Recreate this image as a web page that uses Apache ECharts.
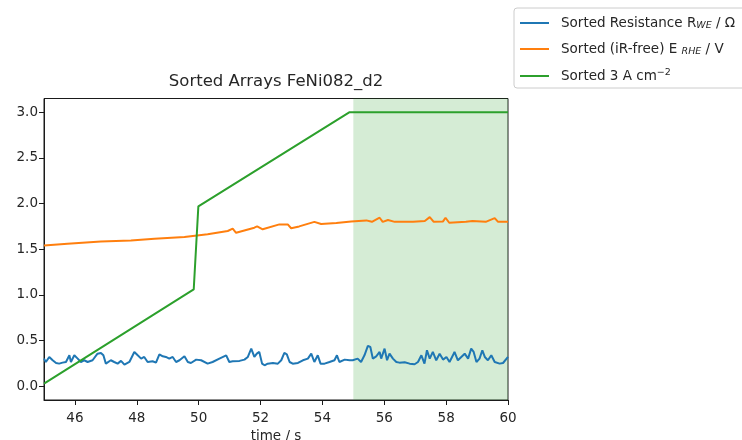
<!DOCTYPE html>
<html>
<head>
<meta charset="utf-8">
<script src="https://cdn.jsdelivr.net/npm/echarts@6/dist/echarts.min.js"></script>
<style>
  html, body { margin: 0; padding: 0; background: #fff; }
  #chart { width: 742px; height: 440px; }
</style>
</head>
<body>
<div id="chart"></div>
<script>
// Sorted resistance R_WE (Ω) against time (s)
const resTime = [45.00,45.06,45.17,45.28,45.39,45.49,45.60,45.71,45.82,45.87,45.98,46.09,46.19,46.30,46.41,46.57,46.73,46.84,46.92,47.00,47.06,47.16,47.27,47.38,47.49,47.60,47.76,47.92,48.03,48.14,48.24,48.35,48.51,48.62,48.73,48.84,48.94,49.05,49.16,49.27,49.38,49.54,49.65,49.75,49.92,50.08,50.29,50.45,50.67,50.89,50.99,51.10,51.32,51.48,51.59,51.70,51.80,51.88,51.96,52.05,52.13,52.23,52.40,52.56,52.67,52.77,52.85,52.94,53.04,53.21,53.37,53.53,53.64,53.74,53.85,53.94,54.07,54.23,54.39,54.47,54.55,54.72,54.88,54.98,55.14,55.25,55.36,55.47,55.55,55.63,55.74,55.85,55.90,56.01,56.09,56.17,56.28,56.39,56.49,56.66,56.82,56.98,57.09,57.20,57.30,57.38,57.47,57.57,57.68,57.79,57.90,58.01,58.11,58.22,58.27,58.38,58.49,58.60,58.71,58.81,58.89,58.98,59.08,59.17,59.25,59.35,59.46,59.57,59.73,59.84,60.00];
const resValue = [0.303,0.266,0.321,0.285,0.255,0.248,0.259,0.266,0.339,0.266,0.339,0.303,0.266,0.285,0.266,0.285,0.357,0.365,0.339,0.248,0.230,0.285,0.266,0.248,0.278,0.237,0.266,0.376,0.339,0.303,0.321,0.266,0.274,0.259,0.350,0.328,0.321,0.303,0.321,0.266,0.285,0.328,0.266,0.255,0.292,0.285,0.248,0.266,0.303,0.339,0.266,0.274,0.278,0.292,0.321,0.412,0.321,0.357,0.376,0.248,0.230,0.248,0.255,0.248,0.285,0.365,0.350,0.266,0.248,0.255,0.285,0.303,0.357,0.266,0.339,0.248,0.248,0.266,0.285,0.339,0.266,0.292,0.285,0.285,0.303,0.266,0.339,0.442,0.430,0.303,0.328,0.376,0.303,0.412,0.285,0.357,0.303,0.266,0.259,0.263,0.248,0.241,0.266,0.339,0.248,0.394,0.303,0.376,0.285,0.357,0.292,0.321,0.266,0.339,0.376,0.285,0.321,0.357,0.303,0.412,0.376,0.266,0.303,0.394,0.321,0.285,0.339,0.266,0.248,0.255,0.321];

// Sorted iR-free potential E_RHE (V)
const potTime = [45.00,45.76,46.84,47.81,48.57,49.54,50.29,50.94,51.10,51.21,51.80,51.89,52.07,52.61,52.88,52.99,53.25,53.74,53.96,54.45,54.93,55.42,55.60,55.85,55.95,56.12,56.34,56.93,57.31,57.47,57.60,57.90,57.98,58.10,58.64,58.85,59.28,59.57,59.68,60.00];
const potValue = [1.54,1.56,1.586,1.597,1.616,1.634,1.663,1.70,1.725,1.68,1.736,1.75,1.718,1.772,1.772,1.73,1.75,1.80,1.776,1.787,1.805,1.816,1.80,1.845,1.80,1.82,1.80,1.80,1.81,1.852,1.80,1.805,1.845,1.79,1.80,1.81,1.80,1.84,1.80,1.80];

// Sorted current density step (3 A cm^-2)
const curTime = [45.00, 49.84, 49.99, 54.88, 60.00];
const curValue = [0.03, 1.06, 1.97, 3.00, 3.00];

// Highlighted steady-state window
const windowRange = [55, 60];

// Axis ticks
const xTicks = [46, 48, 50, 52, 54, 56, 58, 60];
const yTicks = [0.0, 0.5, 1.0, 1.5, 2.0, 2.5, 3.0];

const seriesNames = ['res', 'pot', 'cur'];
const legendText = {
  res: 'Sorted Resistance R{sub|WE} / Ω',
  pot: 'Sorted (iR-free) E {sub|RHE} / V',
  cur: 'Sorted 3 A cm{sup|−2}'
};

const FONT = 'DejaVu Sans';
const TXT = '#262626';
const SPINE = '#1a1a1a';

function pairs(xs, ys) { return xs.map((x, i) => [x, ys[i]]); }

const chart = echarts.init(document.getElementById('chart'), null, { renderer: 'canvas' });

chart.setOption({
  animation: false,
  backgroundColor: '#fff',
  title: {
    text: 'Sorted Arrays FeNi082_d2',
    left: 276, top: 73, textAlign: 'center', padding: 0,
    textStyle: { fontFamily: FONT, fontSize: 16.5, fontWeight: 'normal', color: TXT }
  },
  legend: {
    orient: 'vertical',
    left: 514, top: 8,
    padding: [8, 14, 5, 6],
    itemGap: 11,
    itemWidth: 29, itemHeight: 2,
    icon: 'rect',
    backgroundColor: '#fff',
    borderColor: '#cccccc', borderWidth: 1, borderRadius: 3,
    data: seriesNames,
    formatter: name => legendText[name],
    textStyle: {
      fontFamily: FONT, fontSize: 13.5, color: TXT, padding: [0, 0, 0, 7],
      rich: {
        sub: { fontFamily: FONT, fontSize: 9.5, fontStyle: 'italic', color: TXT, padding: [6, 0, 0, 0] },
        sup: { fontFamily: FONT, fontSize: 9.5, color: TXT, padding: [0, 0, 6, 0] }
      }
    }
  },
  grid: {
    left: 44, right: 234, top: 98.5, bottom: 40,
    outerBoundsMode: 'none',
    show: true, borderColor: SPINE, borderWidth: 1, backgroundColor: 'transparent'
  },
  xAxis: {
    type: 'value', min: 45, max: 60,
    name: 'time / s', nameLocation: 'middle', nameGap: 27,
    nameTextStyle: { fontFamily: FONT, fontSize: 13.5, color: TXT },
    axisLine: { show: true, onZero: false, lineStyle: { color: SPINE, width: 1 } },
    axisTick: { show: true, inside: false, length: 5, customValues: xTicks, lineStyle: { color: SPINE, width: 1 } },
    axisLabel: { customValues: xTicks, margin: 11, fontFamily: FONT, fontSize: 13.5, color: TXT },
    splitLine: { show: false }
  },
  yAxis: {
    type: 'value', min: -0.15, max: 3.15,
    axisLine: { show: true, onZero: false, lineStyle: { color: SPINE, width: 1 } },
    axisTick: { show: true, length: 5, customValues: yTicks, lineStyle: { color: SPINE } },
    axisLabel: { customValues: yTicks, margin: 6, fontFamily: FONT, fontSize: 13.5, color: TXT,
                 formatter: v => v.toFixed(1) },
    splitLine: { show: false }
  },
  series: [
    {
      name: 'res', type: 'line', showSymbol: false, symbol: 'none',
      data: pairs(resTime, resValue),
      lineStyle: { color: '#1f77b4', width: 2 }, itemStyle: { color: '#1f77b4' },
      z: 3,
      markArea: {
        silent: true,
        itemStyle: { color: 'rgba(44,160,44,0.2)' },
        data: [[{ xAxis: windowRange[0] }, { xAxis: windowRange[1] }]]
      }
    },
    {
      name: 'pot', type: 'line', showSymbol: false, symbol: 'none',
      data: pairs(potTime, potValue),
      lineStyle: { color: '#ff7f0e', width: 2 }, itemStyle: { color: '#ff7f0e' },
      z: 4
    },
    {
      name: 'cur', type: 'line', showSymbol: false, symbol: 'none',
      data: pairs(curTime, curValue),
      lineStyle: { color: '#2ca02c', width: 2 }, itemStyle: { color: '#2ca02c' },
      z: 5
    }
  ]
});
</script>
</body>
</html>
